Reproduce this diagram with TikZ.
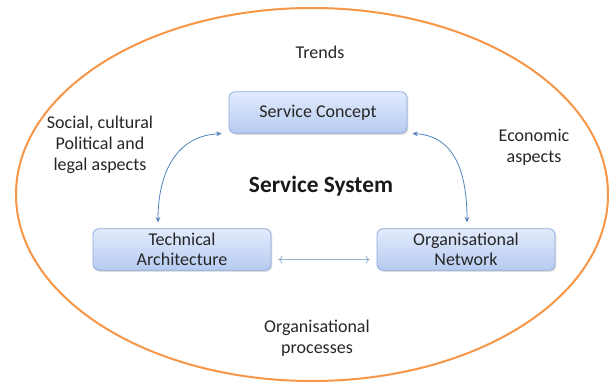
\documentclass[tikz,border=0pt]{standalone}
\usepackage{fontspec}
\setmainfont{Carlito}
\usetikzlibrary{arrows.meta,shadows}
\definecolor{ringorange}{HTML}{F79646}
\definecolor{boxtop}{HTML}{E2EBFC}
\definecolor{boxbottom}{HTML}{B6CBF1}
\definecolor{boxline}{HTML}{8FAADB}
\definecolor{linkblue}{HTML}{4F81BD}
\definecolor{lightlink}{HTML}{95B3D7}
\begin{document}
\begin{tikzpicture}[x=0.75pt,y=-0.75pt,
    part/.style={rectangle,rounded corners=4.5pt,draw=boxline,line width=0.6pt,
        top color=boxtop,bottom color=boxbottom,minimum width=133.5pt,minimum height=31pt,
        align=center,font=\fontsize{13.5}{15}\selectfont,text=black!85,
        drop shadow={opacity=0.25,shadow xshift=1pt,shadow yshift=-1.2pt}},
    aspect/.style={align=center,font=\fontsize{13.5}{15.75}\selectfont,text=black!85},
    link/.style={draw=linkblue,line width=0.6pt,{Stealth[length=4pt,width=3.5pt]}-{Stealth[length=4pt,width=3.5pt]}},
    flow/.style={draw=lightlink,line width=0.6pt,{To[length=3pt,width=6pt]}-{To[length=3pt,width=6pt]}}]
	\useasboundingbox (0,0) rectangle (610,385);
	\draw[ringorange,line width=1.5pt] (312,194.5) ellipse [x radius=296,y radius=186.5];
	% the three parts
	\node[part] (concept) at (318,112.5) {Service Concept};
	\node[part] (technical) at (182,249.5) {Technical\\Architecture};
	\node[part] (network) at (466,249.5) {Organisational\\Network};
	% surrounding aspects
	\node[aspect] (trends) at (320,52) {Trends};
	\node[aspect] (social) at (100,145) {Social, cultural\\Political and\\legal aspects};
	\node[aspect] (economic) at (534,147) {Economic\\aspects};
	\node[aspect] (processes) at (317,338) {Organisational\\processes};
	\node[font=\bfseries\fontsize{17.5}{20}\selectfont,text=black!90] (system) at (321,186) {Service System};
	% links
	\draw[link] ([xshift=-5.25pt]concept.south west) to[out=183,in=90,looseness=1.1] ([shift={(-18pt,4.5pt)}]technical.north);
	\draw[link] ([xshift=3.75pt]concept.south east) to[out=-3,in=90,looseness=1.1] ([shift={(0.75pt,4.5pt)}]network.north);
	\draw[flow] ([shift={(5.25pt,-7.5pt)}]technical.east) -- ([shift={(-5.25pt,-7.5pt)}]network.west);
\end{tikzpicture}
\end{document}
